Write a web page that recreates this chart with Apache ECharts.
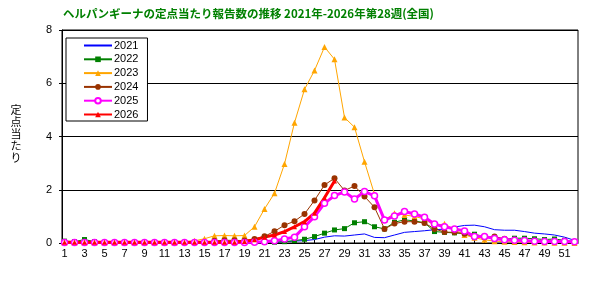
<!DOCTYPE html>
<html>
<head>
<meta charset="utf-8">
<script src="https://cdn.jsdelivr.net/npm/echarts@6/dist/echarts.min.js"></script>
<style>
  html, body { margin: 0; padding: 0; background: #fff; }
  #chart { width: 602px; height: 282px; }
</style>
</head>
<body>
<div id="chart"></div>
<script>
// 週 (1-52)
const weeks = [];
for (let i = 1; i <= 52; i++) weeks.push(i);
const weekLabels = weeks.filter(w => w % 2 === 1);
const yTicks = [0, 2, 4, 6, 8];
const yName = ['定', '点', '当', 'た', 'り'];

// 定点当たり報告数
const v2021 = [0.01,0.01,0.01,0.01,0.01,0.01,0.01,0.01,0.01,0.01,0.01,0.01,0.01,0.01,0.01,0.01,0.01,0.01,0.01,0.01,
  0.02,0.03,0.05,0.07,0.09,0.13,0.22,0.27,0.26,0.30,0.34,0.21,0.20,0.30,0.40,0.43,0.46,0.50,0.52,0.60,
  0.66,0.67,0.61,0.50,0.48,0.48,0.43,0.37,0.34,0.30,0.22,0.10];
const v2022 = [0.07,0.05,0.13,0.05,0.02,0.02,0.02,0.02,0.02,0.02,0.02,0.02,0.02,0.02,0.02,0.02,0.02,0.02,0.02,0.02,
  0.02,0.03,0.05,0.09,0.14,0.24,0.37,0.49,0.54,0.76,0.80,0.61,0.53,0.78,0.87,0.83,0.76,0.43,0.40,0.38,
  0.35,0.33,0.24,0.15,0.13,0.18,0.18,0.16,0.13,0.15,0.10,0.05];
const v2023 = [0.02,0.02,0.02,0.02,0.02,0.02,0.02,0.02,0.02,0.02,0.02,0.02,0.04,0.08,0.16,0.27,0.28,0.27,0.28,0.61,
  1.28,1.87,2.97,4.52,5.77,6.48,7.36,6.90,4.71,4.35,3.05,1.83,0.86,1.12,1.05,1.00,0.90,0.65,0.72,0.50,
  0.30,0.20,0.12,0.07,0.05,0.04,0.03,0.02,0.02,0.01,0.01,0.00];
const v2024 = [0.02,0.02,0.02,0.02,0.02,0.02,0.02,0.02,0.02,0.02,0.02,0.02,0.02,0.02,0.02,0.08,0.10,0.10,0.09,0.15,
  0.25,0.44,0.67,0.82,1.09,1.60,2.18,2.43,1.97,2.14,1.75,1.34,0.53,0.73,0.80,0.80,0.75,0.53,0.41,0.40,
  0.35,0.22,0.22,0.24,0.16,0.12,0.10,0.08,0.07,0.06,0.05,0.04];
const v2025 = [0.02,0.02,0.02,0.02,0.02,0.02,0.02,0.02,0.02,0.02,0.02,0.02,0.02,0.02,0.02,0.02,0.02,0.02,0.02,0.03,
  0.05,0.08,0.15,0.22,0.61,0.99,1.49,1.78,1.92,1.65,1.93,1.77,0.86,1.01,1.18,1.09,0.97,0.71,0.61,0.53,
  0.45,0.24,0.24,0.17,0.12,0.10,0.09,0.07,0.06,0.06,0.06,0.05];
const v2026 = [0.03,0.03,0.03,0.03,0.03,0.03,0.03,0.03,0.03,0.03,0.03,0.03,0.03,0.03,0.03,0.03,0.03,0.03,0.06,0.12,
  0.22,0.30,0.43,0.61,0.80,1.12,1.70,2.33];

const pairs = arr => arr.map((v, i) => [weeks[i], v]);
const numFont = 'Liberation Sans';

const chart = echarts.init(document.getElementById('chart'));

chart.setOption({
  animation: false,
  backgroundColor: '#fff',
  title: {
    text: 'ヘルパンギーナの定点当たり報告数の推移 2021年-2026年第28週(全国)',
    left: 63, top: 8, padding: 0,
    textStyle: { color: '#008000', fontSize: 11.5, fontWeight: 'bold', fontFamily: 'Noto Sans CJK JP' }
  },
  // 縦書きの軸名 (1文字ずつ)
  graphic: yName.map((ch, i) => ({
    type: 'text', x: 16, y: 104 + i * 12,
    style: { text: ch, fontSize: 11, fill: '#000', fontFamily: 'Noto Sans CJK JP',
      align: 'center', verticalAlign: 'top' }
  })),
  legend: {
    orient: 'vertical',
    left: 66, top: 38,
    padding: [2, 9, 1, 17],
    itemWidth: 28, itemHeight: 7, itemGap: 2.8,
    backgroundColor: '#fff',
    borderColor: '#000', borderWidth: 1,
    textStyle: { color: '#000', fontSize: 11, fontFamily: numFont, padding: [0, 0, 0, -3] },
    data: [
      { name: '2021', itemStyle: { opacity: 0 } },
      '2022', '2023', '2024', '2025', '2026'
    ]
  },
  grid: { left: 62, right: 24, top: 30, bottom: 39, show: true, borderColor: '#000', borderWidth: 1 },
  xAxis: {
    type: 'value', min: 0.75, max: 52.35,
    axisLine: { lineStyle: { color: '#000' } },
    axisTick: { inside: true, length: 3, lineStyle: { color: '#000' }, customValues: weeks },
    axisLabel: { color: '#000', fontSize: 11, fontFamily: numFont, margin: 5, customValues: weekLabels },
    splitLine: { show: false }
  },
  yAxis: {
    type: 'value', min: 0, max: 8, interval: 2,
    axisLine: { show: true, lineStyle: { color: '#000' } },
    axisTick: { show: true, length: 3, lineStyle: { color: '#000' } },
    axisLabel: { color: '#000', fontSize: 11, fontFamily: numFont, margin: 10, customValues: yTicks },
    splitLine: { show: true, lineStyle: { color: '#000', width: 1 } }
  },
  series: [
    { name: '2021', type: 'line', data: pairs(v2021), showSymbol: false, symbol: 'none',
      lineStyle: { color: '#0000ff', width: 1 }, itemStyle: { color: '#0000ff' } },
    { name: '2022', type: 'line', data: pairs(v2022), symbol: 'rect', symbolSize: 5,
      lineStyle: { color: '#008000', width: 1 }, itemStyle: { color: '#008000' } },
    { name: '2023', type: 'line', data: pairs(v2023), symbol: 'triangle', symbolSize: 6,
      lineStyle: { color: '#ffa500', width: 1 }, itemStyle: { color: '#ffa500' } },
    { name: '2024', type: 'line', data: pairs(v2024), symbol: 'circle', symbolSize: 6,
      lineStyle: { color: '#993300', width: 1 }, itemStyle: { color: '#993300' } },
    { name: '2025', type: 'line', data: pairs(v2025), symbol: 'circle', symbolSize: 6,
      lineStyle: { color: '#ff00ff', width: 3 }, itemStyle: { color: '#fff', borderColor: '#ff00ff', borderWidth: 1.5 } },
    { name: '2026', type: 'line', data: pairs(v2026), symbol: 'triangle', symbolSize: 5,
      lineStyle: { color: '#ff0000', width: 3 }, itemStyle: { color: '#ff0000' } }
  ]
});
</script>
</body>
</html>
